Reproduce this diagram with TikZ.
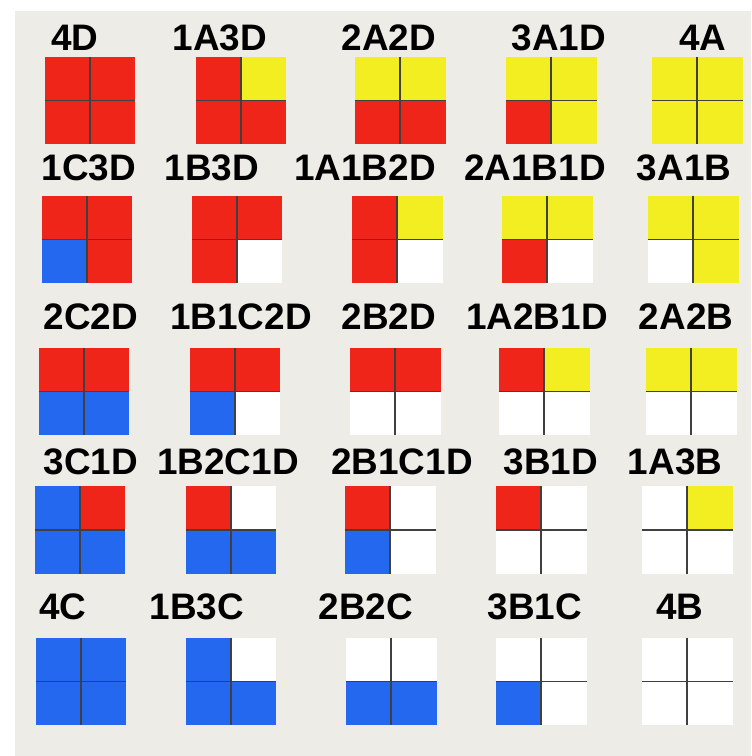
\documentclass[tikz,border=0pt]{standalone}
\usepackage{fontspec}
\setmainfont{Liberation Sans}
\definecolor{cred}{RGB}{238, 37, 24}
\definecolor{cyel}{RGB}{243, 238, 34}
\definecolor{cblue}{RGB}{36, 104, 240}
\definecolor{paper}{RGB}{237, 236, 231}
\usepackage{tikz}
\usetikzlibrary{positioning, calc}

\tikzset{
  tile/.style={minimum width=1.82cm, minimum height=1.76cm, inner sep=0pt, outer sep=0pt},
  tilelabel/.style={font=\bfseries\fontsize{21}{25}\selectfont, inner sep=0pt},
  crossline/.style={draw=black!75, line width=0.9pt}
}

\begin{document}
\begin{tikzpicture}[x=0.02cm, y=-0.02cm]
  \useasboundingbox (0,0) rectangle (751,756);
  \fill[white] (0,0) rectangle (751,756);
  \fill[paper] (15,11) rectangle (751,756);

  \foreach \sx/\sy/\lx/\ly/\tl/\tr/\bl/\br/\name in {
    90/100.5/75/38/cred/cred/cred/cred/4D,
    241/100.5/220/38/cred/cyel/cred/cred/1A3D,
    400/100.5/389/38/cyel/cyel/cred/cred/2A2D,
    551/100.5/559/38/cyel/cyel/cred/cyel/3A1D,
    697/100.5/703/38/cyel/cyel/cyel/cyel/4A,
    87/239.5/89/168/cred/cred/cblue/cred/1C3D,
    237/239.5/212/168/cred/cred/cred/white/1B3D,
    397/239.5/365/168/cred/cyel/cred/white/1A1B2D,
    547/239.5/535/168/cyel/cyel/cred/white/2A1B1D,
    693/239.5/684/168/cyel/cyel/white/cyel/3A1B,
    84/391.5/91/317/cred/cred/cblue/cblue/2C2D,
    235/391.5/241/317/cred/cred/cblue/white/1B1C2D,
    395/391.5/389/317/cred/cred/white/white/2B2D,
    544/391.5/537/317/cred/cyel/white/white/1A2B1D,
    691/391.5/686/317/cyel/cyel/white/white/2A2B,
    80/530/91/462/cblue/cred/cblue/cblue/3C1D,
    231/530/228/462/cred/white/cblue/cblue/1B2C1D,
    390/530/402/462/cred/white/cblue/white/2B1C1D,
    541/530/551/462/cred/white/white/white/3B1D,
    687/530/675/462/white/cyel/white/white/1A3B,
    81/681.5/63/607/cblue/cblue/cblue/cblue/4C,
    231/681.5/197/607/cblue/white/cblue/cblue/1B3C,
    391/681.5/366/607/white/white/cblue/cblue/2B2C,
    541/681.5/535/607/white/white/cblue/white/3B1C,
    687/681.5/680/607/white/white/white/white/4B} {
    \node[tile] (t\name) at (\sx,\sy) {};
    \fill[\tl] (t\name.north west) rectangle (t\name.center);
    \fill[\tr] (t\name.north) rectangle (t\name.east);
    \fill[\bl] (t\name.west) rectangle (t\name.south);
    \fill[\br] (t\name.center) rectangle (t\name.south east);
    \draw[crossline] (t\name.north) -- (t\name.south) (t\name.west) -- (t\name.east);
    \node[tilelabel] (l\name) at (\lx,\ly) {\name};
  }
\end{tikzpicture}
\end{document}
